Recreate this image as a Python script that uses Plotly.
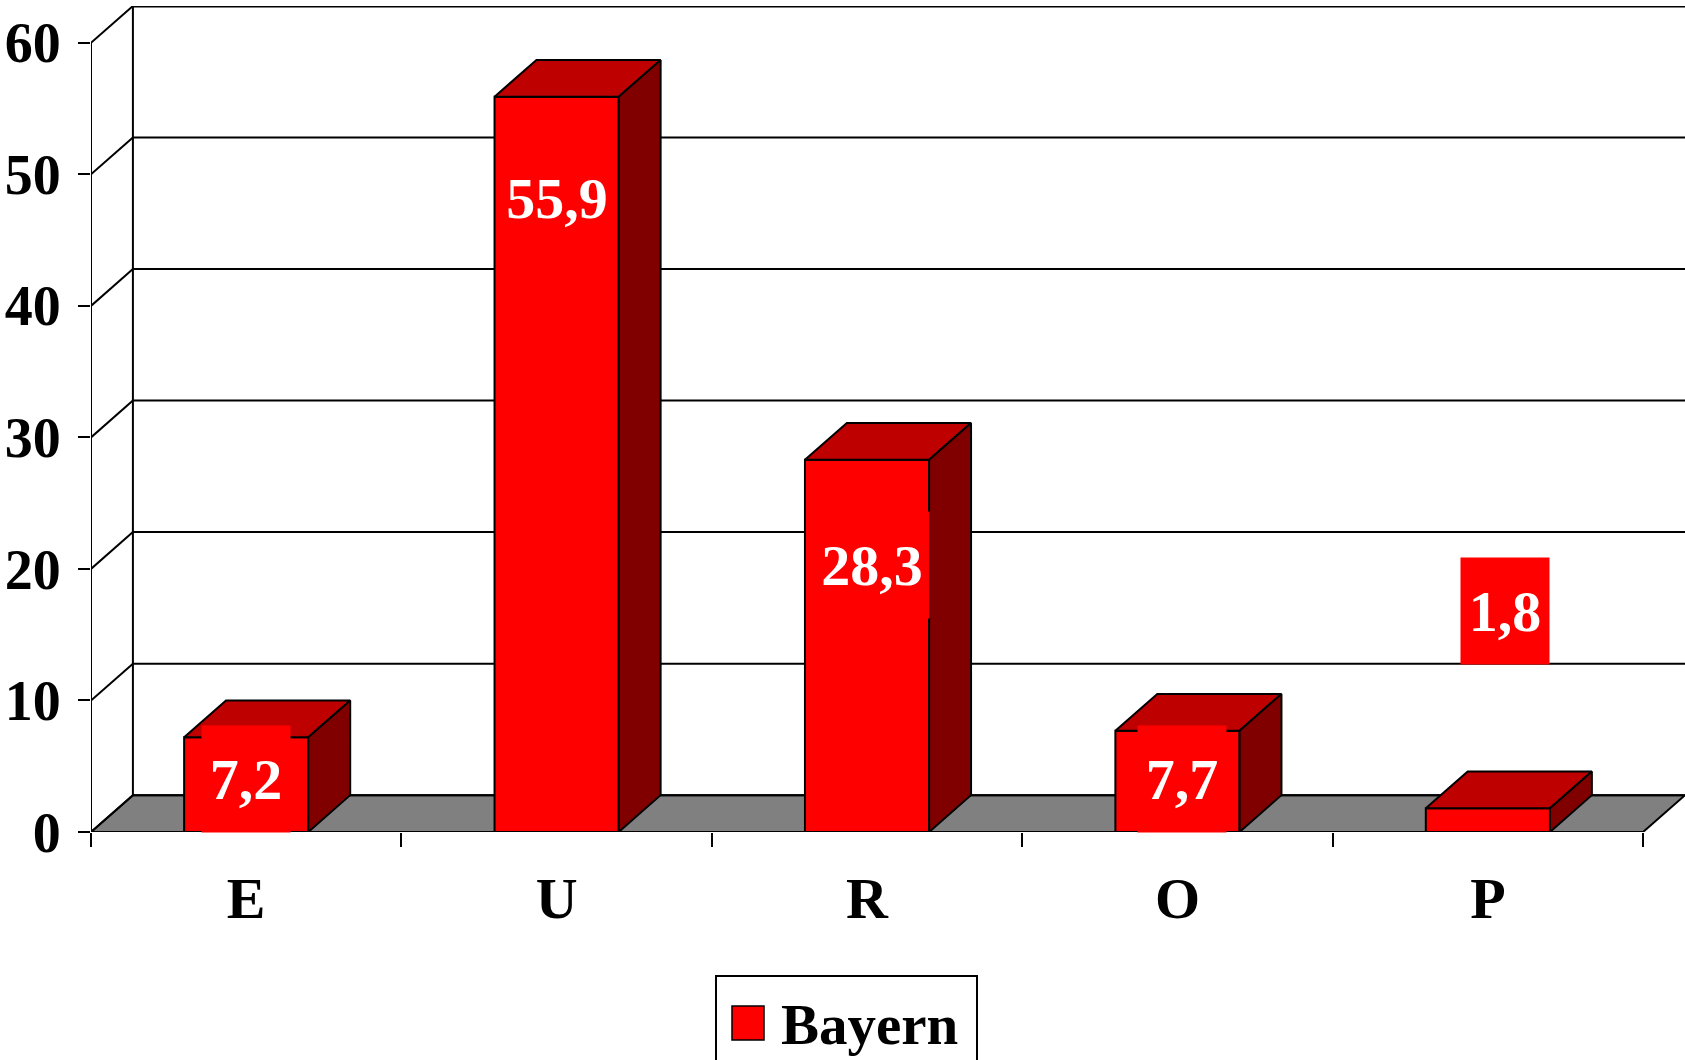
import plotly.graph_objects as go

categories = ["E", "U", "R", "O", "P"]
values = [7.2, 55.9, 28.3, 7.7, 1.8]
series_name = "Bayern"
y_ticks = [0, 10, 20, 30, 40, 50, 60]

# value labels were moved by hand in the original, so keep where they sit
label_y = [4.05, 48.2, 20.3, 4.05, 16.8]
label_xshift = [0, 0, 5, 5, 17]

FONT = "Times New Roman, Liberation Serif, serif"
RED, TOP, SIDE, FLOOR = "#ff0000", "#bf0000", "#800000", "#808080"
DX, DY = 0.135, 2.8  # depth of the fake 3d box (axis units)
BW = 0.4

W, H = 1685, 1060
ML, MR, MT, MB = 91, 0, 6, 228
PW, PH = W - ML - MR, H - MT - MB


def px(x):
    return (x - ML) / PW


def py(y):
    return (H - MB - y) / PH


xs = list(range(len(categories)))
x_lo, x_hi = -0.5, len(categories) - 0.5
y_top = y_ticks[-1]
edge = dict(color="black", width=2)

shapes = []
# floor
shapes.append(dict(
    type="path", xref="x", yref="y", layer="below",
    path=f"M{x_lo},0 L{x_hi},0 L{x_hi + DX},{DY} L{x_lo + DX},{DY} Z",
    fillcolor=FLOOR, line=edge,
))
for v in y_ticks:
    # back wall gridline + left wall diagonal
    shapes.append(dict(type="line", xref="x", yref="y", layer="below",
                       x0=x_lo + DX, x1=x_hi + DX, y0=v + DY, y1=v + DY,
                       line=dict(color="black", width=3 if v == y_top else 2)))
    shapes.append(dict(type="line", xref="x", yref="y", layer="below",
                       x0=x_lo, y0=v, x1=x_lo + DX, y1=v + DY, line=edge))
shapes.append(dict(type="line", xref="x", yref="y", layer="below",
                   x0=x_lo + DX, x1=x_lo + DX, y0=DY, y1=y_top + DY, line=edge))
shapes.append(dict(type="line", xref="x", yref="y", layer="below",
                   x0=x_lo, x1=x_lo, y0=0, y1=y_top, line=edge))

# hand made legend box (plotly's bar legend swatch is far too small)
shapes.append(dict(type="rect", xref="paper", yref="paper",
                   x0=px(716), x1=px(977), y0=py(976), y1=py(1090),
                   fillcolor="white", line=edge))
shapes.append(dict(type="rect", xref="paper", yref="paper",
                   x0=px(732), x1=px(764), y0=py(1006), y1=py(1040),
                   fillcolor=RED, line=dict(color="black", width=1.5)))

# top and side faces of the boxes
tx, ty, sx, sy = [], [], [], []
for x, v in zip(xs, values):
    l, r = x - BW / 2, x + BW / 2
    tx += [l, r, r + DX, l + DX, l, None]
    ty += [v, v, v + DY, v + DY, v, None]
    sx += [r, r, r + DX, r + DX, r, None]
    sy += [0, v, v + DY, DY, 0, None]

fig = go.Figure()
fig.add_trace(go.Bar(
    x=xs, y=values, width=BW, name=series_name,
    marker=dict(color=RED, line=edge), showlegend=False,
))
fig.add_trace(go.Scatter(x=tx, y=ty, mode="lines", fill="toself", fillcolor=TOP,
                         line=edge, showlegend=False, hoverinfo="skip"))
fig.add_trace(go.Scatter(x=sx, y=sy, mode="lines", fill="toself", fillcolor=SIDE,
                         line=edge, showlegend=False, hoverinfo="skip"))

annotations = []
for x, v, ly, sh in zip(xs, values, label_y, label_xshift):
    txt = f"{v:.1f}".replace(".", ",")
    annotations.append(dict(
        x=x, y=ly, xref="x", yref="y", xshift=sh, showarrow=False,
        text=txt, bgcolor=RED, width=86 if len(txt) <= 3 else 112, height=104,
        valign="middle", align="center",
        font=dict(family=FONT, size=58, color="white", weight="bold"),
    ))
annotations.append(dict(
    x=px(779), y=py(1024), xref="paper", yref="paper", xanchor="left",
    yanchor="middle", showarrow=False, text=series_name,
    font=dict(family=FONT, size=57, color="black", weight="bold"),
))

fig.update_layout(
    width=W, height=H,
    margin=dict(l=ML, r=MR, t=MT, b=MB, pad=0),
    paper_bgcolor="white", plot_bgcolor="white",
    font=dict(family=FONT, color="black", weight="bold"),
    showlegend=False,
    shapes=shapes, annotations=annotations,
    xaxis=dict(
        range=[x_lo, x_hi + DX], tickvals=xs, ticktext=categories,
        ticks="", showgrid=False, zeroline=False, showline=False,
        tickfont=dict(size=58, family=FONT, weight="bold"), ticklabelstandoff=27,
        minor=dict(tickmode="array", tickvals=[x - 0.5 for x in xs] + [x_hi],
                   ticks="outside", ticklen=14, tickwidth=2, tickcolor="black"),
    ),
    yaxis=dict(
        range=[0, y_top + DY], tickvals=y_ticks, ticks="outside", ticklen=12,
        tickwidth=2, tickcolor="black", showgrid=False, zeroline=False,
        showline=False, tickfont=dict(size=56, family=FONT, weight="bold"),
        ticklabelstandoff=6,
    ),
)

fig.write_html("out.html", config={"displayModeBar": False},
               post_script="document.body.style.margin='0';")
